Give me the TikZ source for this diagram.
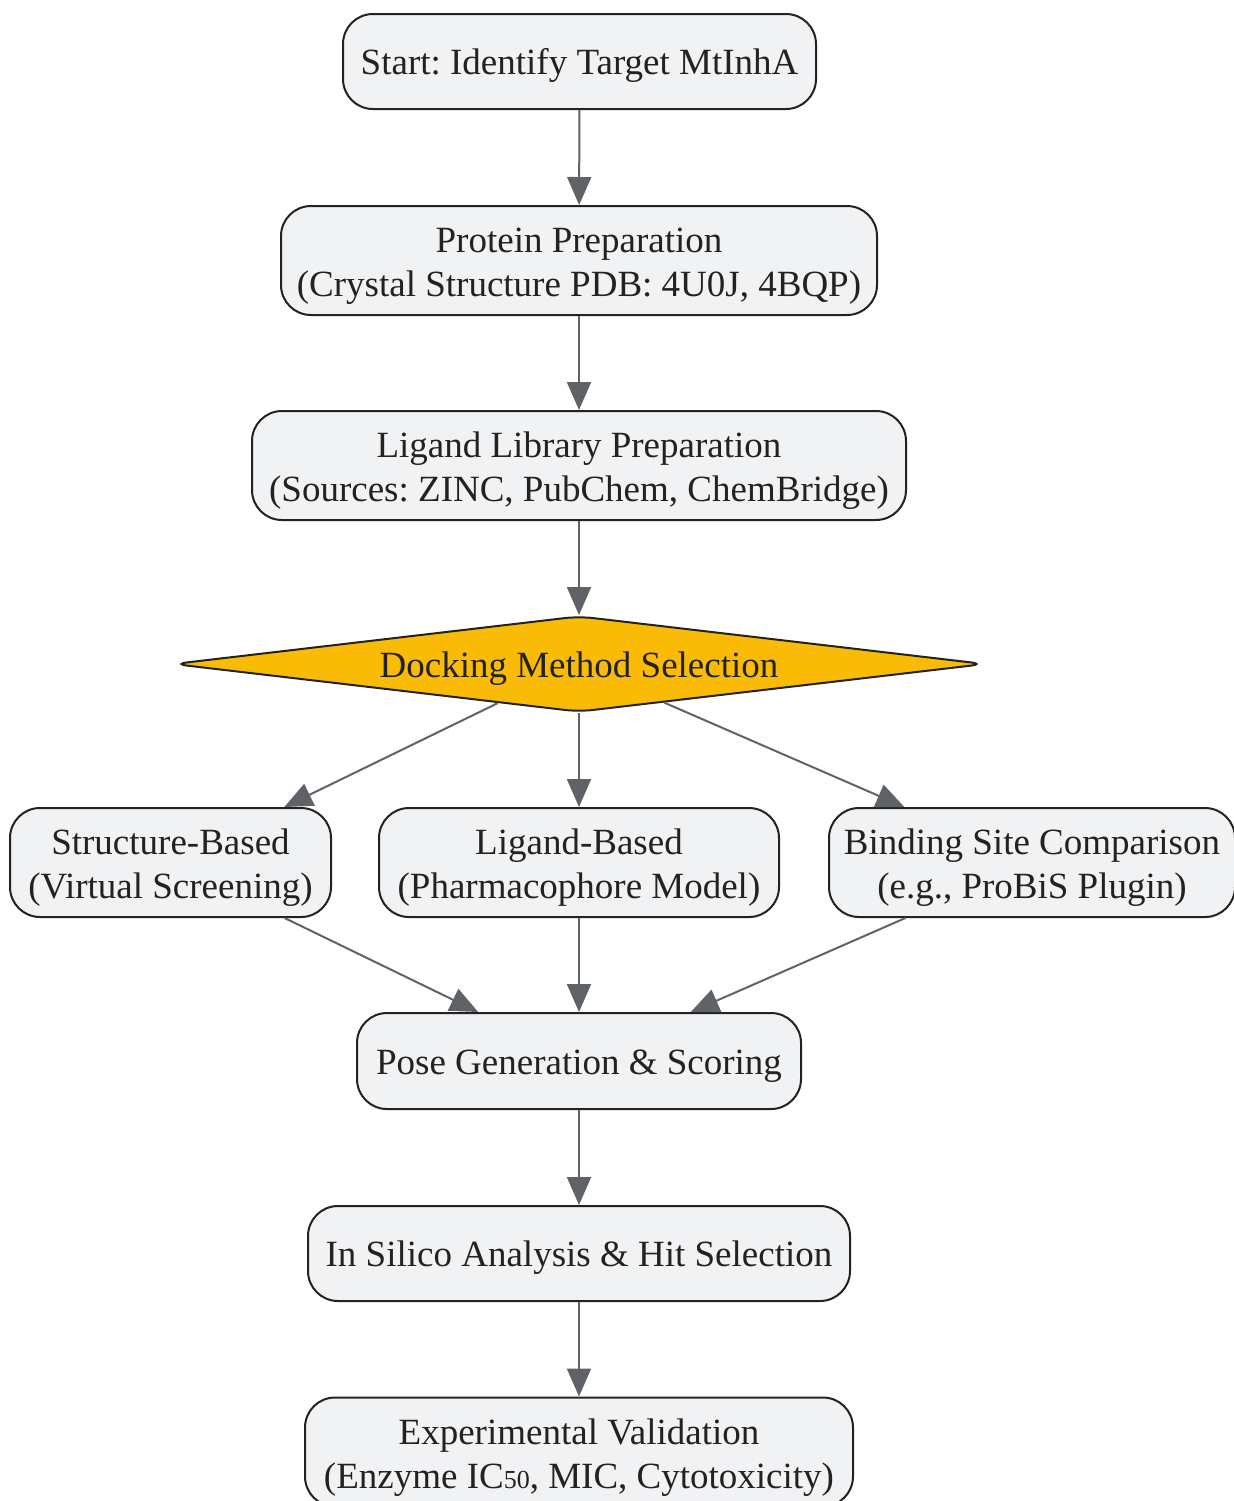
\documentclass[tikz,border=0pt]{standalone}
\usepackage{fontspec}
\setmainfont{Liberation Serif}
\usetikzlibrary{arrows.meta,calc,shapes.geometric,positioning}
\definecolor{boxfill}{HTML}{F1F2F4}
\definecolor{boxline}{HTML}{222222}
\definecolor{decfill}{HTML}{F9BB05}
\definecolor{arrline}{HTML}{5F6368}
\frenchspacing
\tikzset{
  stepbox/.style={draw=boxline, fill=boxfill, line width=1pt, rounded corners=15pt,
    align=center, text=boxline, inner sep=1pt, minimum height=47.5pt,
    text height=17pt, text depth=3.8pt,
    font=\fontsize{18.5}{22}\selectfont},
  twoline/.style={stepbox, minimum height=54.5pt, text height=38pt, text depth=1.8pt},
  decbox/.style={diamond, draw=boxline, fill=decfill, line width=1pt, rounded corners=7pt,
    aspect=8.7, inner sep=0pt, minimum width=406pt, minimum height=48pt, text=boxline,
    text height=17pt, text depth=3.8pt,
    font=\fontsize{18.5}{22}\selectfont},
  flow/.style={draw=arrline, line width=1pt, -{Triangle[length=14pt,width=12pt]}}
}
\begin{document}
\begin{tikzpicture}[x=0.5pt,y=-0.5pt]
\useasboundingbox (0,0) rectangle (1234,1501);
\node[stepbox, minimum width=236.5pt] (start) at (579.5,61.5) {Start: Identify Target MtInhA};
\node[twoline, minimum width=298pt] (prot) at (579,260.5) {Protein Preparation\\(Crystal Structure PDB: 4U0J, 4BQP)};
\node[twoline, minimum width=327pt] (lib) at (579,465.5) {Ligand Library Preparation\\(Sources: ZINC, PubChem, ChemBridge)};
\node[decbox] (dock) at (579,664) {Docking Method Selection};
\node[twoline, minimum width=160.5pt] (sb) at (170.5,862.5) {Structure-Based\\(Virtual Screening)};
\node[twoline, minimum width=200pt] (lb) at (579,862.5) {Ligand-Based\\(Pharmacophore Model)};
\node[twoline, minimum width=203pt] (bs) at (1032,862.5) {Binding Site Comparison\\(e.g., ProBiS Plugin)};
\node[stepbox, minimum width=222pt, minimum height=48pt] (pose) at (579,1061) {Pose Generation \& Scoring};
\node[stepbox, minimum width=271pt] (hits) at (579,1253.5) {In Silico Analysis \& Hit Selection};
\node[twoline, minimum width=274pt] (exper) at (579,1452) {Experimental Validation\\(Enzyme IC{\fontsize{13}{13}\selectfont 50}, MIC, Cytotoxicity)};
\coordinate (dl) at ($(dock.south)!0.2!(dock.west)$);
\coordinate (dr) at ($(dock.south)!0.21!(dock.east)$);
\draw[flow] (start) -- (prot);
\draw[flow] (prot) -- (lib);
\draw[flow] (lib) -- (dock);
\draw[flow] (dl) -- (sb);
\draw[flow] (dock) -- (lb);
\draw[flow] (dr) -- (bs);
\draw[flow] (sb) -- (pose);
\draw[flow] (lb) -- (pose);
\draw[flow] (bs) -- (pose);
\draw[flow] (pose) -- (hits);
\draw[flow] (hits) -- (exper);
\end{tikzpicture}
\end{document}
